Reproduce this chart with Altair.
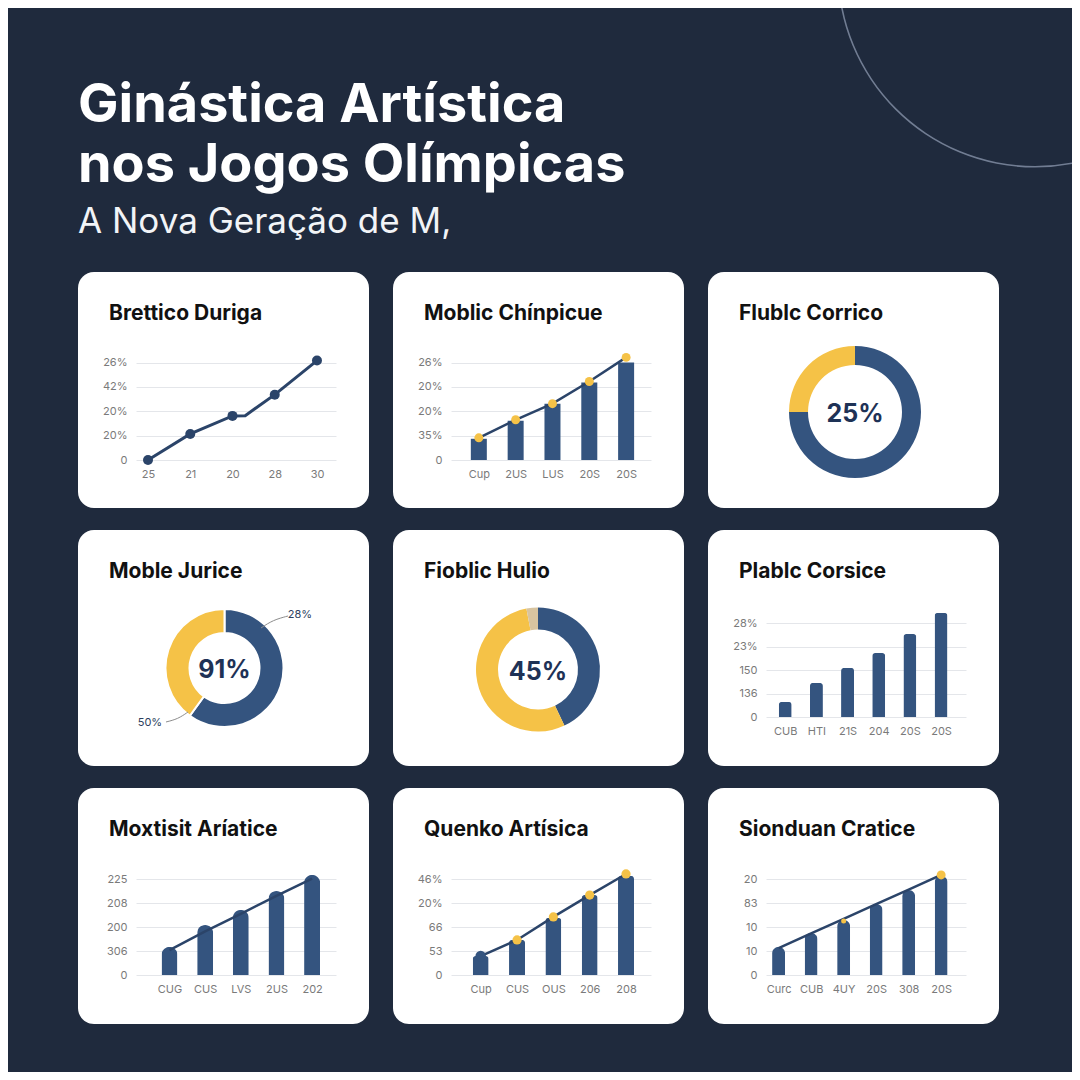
import json
import altair as alt
import pandas as pd

# ---------------- data ----------------
TITLE_LINES = ["Ginástica Artística", "nos Jogos Olímpicas"]
SUBTITLE = "A Nova Geração de M,"

C1_TITLE = "Brettico Duriga"
C1_X_LABELS = ["25", "21", "20", "28", "30"]
C1_Y_LABELS = ["0", "20%", "20%", "42%", "26%"]
C1_LINE_X = [0, 1, 2, 2.3, 3, 4]
C1_LINE_Y = [0.0, 1.07, 1.81, 1.82, 2.68, 4.08]
C1_DOT_X = [0, 1, 2, 3, 4]
C1_DOT_Y = [0.0, 1.07, 1.81, 2.68, 4.08]

C2_TITLE = "Moblic Chínpicue"
C2_X_LABELS = ["Cup", "2US", "LUS", "20S", "20S"]
C2_Y_LABELS = ["0", "35%", "20%", "20%", "26%"]
C2_BARS = [0.87, 1.61, 2.31, 3.18, 4.0]
C2_DOTS = [0.91, 1.65, 2.31, 3.22, 4.21]

C3_TITLE = "Flublc Corrico"
C3_SHARES = [75, 25]
C3_CENTER = "25%"

C4_TITLE = "Moble Jurice"
C4_SHARES = [60, 40]
C4_CENTER = "91%"
C4_SIDE_LABELS = ["28%", "50%"]

C5_TITLE = "Fioblic Hulio"
C5_SHARES = [43, 54, 3]
C5_CENTER = "45%"

C6_TITLE = "Plablc Corsice"
C6_X_LABELS = ["CUB", "HTI", "21S", "204", "20S", "20S"]
C6_Y_LABELS = ["0", "136", "150", "23%", "28%"]
C6_BARS = [0.64, 1.45, 2.09, 2.72, 3.53, 4.43]

C7_TITLE = "Moxtisit Aríatice"
C7_X_LABELS = ["CUG", "CUS", "LVS", "2US", "202"]
C7_Y_LABELS = ["0", "306", "200", "208", "225"]
C7_BARS = [1.17, 2.08, 2.71, 3.5, 4.17]
C7_LINE = [1.04, 1.82, 2.55, 3.3, 4.02]

C8_TITLE = "Quenko Artísica"
C8_X_LABELS = ["Cup", "CUS", "OUS", "206", "208"]
C8_Y_LABELS = ["0", "53", "66", "20%", "46%"]
C8_BARS = [0.79, 1.46, 2.38, 3.33, 4.13]
C8_DOTS = [0.79, 1.46, 2.42, 3.33, 4.21]

C9_TITLE = "Sionduan Cratice"
C9_X_LABELS = ["Curc", "CUB", "4UY", "20S", "308", "20S"]
C9_Y_LABELS = ["0", "10", "10", "83", "20"]
C9_BARS = [1.17, 1.75, 2.29, 2.96, 3.54, 4.13]
C9_LINE = [1.12, 1.73, 2.34, 2.95, 3.56, 4.17]
C9_DOT_X = [2, 5]
C9_DOT_Y = [2.25, 4.17]

# ---------------- style / layout ----------------
FONT = "Inter"
BG = "#1f2a3d"
NAVY = "#34547f"
LINE_C = "#2b4469"
YELLOW = "#f5c247"
BEIGE = "#d8c4a0"
GRID = "#e4e6ea"
LBL = "#7a7a7a"
TXT = "#111111"
CENTER_TXT = "#1e3256"

C3_COLORS = [NAVY, YELLOW]
C4_COLORS = [NAVY, YELLOW]
C5_COLORS = [NAVY, YELLOW, BEIGE]

CARD_W, CARD_H = 291, 236
PLOT_X = [58, 258]


def card_view():
    return alt.ViewBackground(fill="#ffffff", stroke="transparent", cornerRadius=16)


def card_title(t):
    return alt.TitleParams(text=t, anchor="start", frame="group", orient="top",
                           offset=-52, dx=31, fontSize=21, fontWeight=700,
                           color=TXT, font=FONT)


def frame_xy(xdom, yrange, xlabels, ylabels):
    xsc = alt.Scale(domain=xdom, range=PLOT_X, nice=False, zero=False)
    ysc = alt.Scale(domain=[0, 4], range=yrange, nice=False, zero=False)
    xax = alt.Axis(values=list(range(len(xlabels))),
                   labelExpr=json.dumps(xlabels) + "[datum.value]",
                   grid=False, domain=False, ticks=False, labelPadding=8,
                   offset=yrange[0] - CARD_H, labelFontSize=11, labelColor=LBL,
                   labelFont=FONT, labelOverlap=False, labelFlush=False,
                   labelBound=False, title=None)
    yax = alt.Axis(values=[0, 1, 2, 3, 4],
                   labelExpr=json.dumps(ylabels) + "[datum.value]",
                   grid=True, gridColor=GRID, gridWidth=1, domain=False,
                   ticks=False, labelPadding=9, offset=-PLOT_X[0],
                   labelFontSize=11, labelColor=LBL, labelFont=FONT,
                   labelOverlap=False, labelFlush=False, title=None)

    def X(f):
        return alt.X(f"{f}:Q", scale=xsc, axis=xax)

    def Y(f):
        return alt.Y(f"{f}:Q", scale=ysc, axis=yax)
    return X, Y


def finish(layers, title):
    return alt.layer(*layers).properties(width=CARD_W, height=CARD_H,
                                         title=card_title(title), view=card_view())


# card 1: line
X, Y = frame_xy([-0.284, 4.45], [188, 90.5], C1_X_LABELS, C1_Y_LABELS)
c1 = finish([
    alt.Chart(pd.DataFrame({"x": C1_LINE_X, "y": C1_LINE_Y})).mark_line(
        color=LINE_C, strokeWidth=3).encode(x=X("x"), y=Y("y")),
    alt.Chart(pd.DataFrame({"x": C1_DOT_X, "y": C1_DOT_Y})).mark_circle(
        color=LINE_C, size=100, opacity=1).encode(x=X("x"), y=Y("y")),
], C1_TITLE)

# card 2: bars + line + yellow dots
X, Y = frame_xy([-0.62, 4.54], [188, 90.5], C2_X_LABELS, C2_Y_LABELS)
i2 = list(range(len(C2_BARS)))
c2 = finish([
    alt.Chart(pd.DataFrame({"x": i2, "y": C2_BARS})).mark_bar(
        color=NAVY, width=16).encode(x=X("x"), y=Y("y")),
    alt.Chart(pd.DataFrame({"x": i2, "y": C2_DOTS})).mark_line(
        color=LINE_C, strokeWidth=2.5).encode(x=X("x"), y=Y("y")),
    alt.Chart(pd.DataFrame({"x": i2, "y": C2_DOTS})).mark_circle(
        color=YELLOW, size=80, opacity=1).encode(x=X("x"), y=Y("y")),
], C2_TITLE)


def donut(shares, colors, cx, cy, r_in, r_out, center, title, extra=(), sep=0):
    df = pd.DataFrame({"i": list(range(len(shares))), "v": shares, "c": colors})
    arc_kw = dict(innerRadius=r_in, outerRadius=r_out)
    if sep:
        arc_kw.update(stroke="#ffffff", strokeWidth=sep)
    arc = alt.Chart(df).mark_arc(**arc_kw).encode(
        theta=alt.Theta("v:Q", stack=True),
        order=alt.Order("i:Q"),
        color=alt.Color("c:N", scale=None),
        x=alt.value(cx), y=alt.value(cy))
    txt = alt.Chart(pd.DataFrame({"t": [center]})).mark_text(
        fontSize=25, fontWeight=700, color=CENTER_TXT, font=FONT,
        baseline="middle", align="center").encode(
        text="t:N", x=alt.value(cx), y=alt.value(cy + 2))
    return finish([arc, *extra, txt], title)


c3 = donut(C3_SHARES, C3_COLORS, 147, 140, 47, 66, C3_CENTER, C3_TITLE)

# card 4 annotations (polar positions around the donut centre)
C4_CX, C4_CY = 146.5, 138
lead = pd.DataFrame({
    "g": [0, 0, 0, 1, 1, 1], "k": [0, 1, 2, 0, 1, 2],
    "ang": [42.4, 45.3, 50.7, 219.7, 222.4, 227.3],
    "rad": [54.2, 68.2, 82.1, 57.2, 69.0, 79.6]})
leaders = alt.Chart(lead).transform_calculate(
    px=f"{C4_CX} + datum.rad*sin(datum.ang*PI/180)",
    py=f"{C4_CY} - datum.rad*cos(datum.ang*PI/180)").mark_line(
    color="#8c8c8c", strokeWidth=1, interpolate="basis").encode(
    x=alt.X("px:Q", scale=None, axis=None), y=alt.Y("py:Q", scale=None, axis=None),
    detail="g:N", order="k:Q")
side = alt.Chart(pd.DataFrame({"t": C4_SIDE_LABELS, "ang": [55.0, 233.6],
                               "rad": [92.0, 92.6]})).transform_calculate(
    px=f"{C4_CX} + datum.rad*sin(datum.ang*PI/180)",
    py=f"{C4_CY} - datum.rad*cos(datum.ang*PI/180)").mark_text(
    fontSize=11, color="#2d3f5e", font=FONT, baseline="middle").encode(
    text="t:N", x=alt.X("px:Q", scale=None, axis=None),
    y=alt.Y("py:Q", scale=None, axis=None))
c4 = donut(C4_SHARES, C4_COLORS, C4_CX, C4_CY, 35, 59, C4_CENTER, C4_TITLE,
           extra=(leaders, side), sep=2)

c5 = donut(C5_SHARES, C5_COLORS, 145, 139.5, 40, 62, C5_CENTER, C5_TITLE)

# card 6: bars
X, Y = frame_xy([-0.457, 5.64], [187, 93], C6_X_LABELS, C6_Y_LABELS)
c6 = finish([
    alt.Chart(pd.DataFrame({"x": list(range(len(C6_BARS))), "y": C6_BARS})).mark_bar(
        color=NAVY, width=13, cornerRadiusTopLeft=3, cornerRadiusTopRight=3).encode(
        x=X("x"), y=Y("y")),
], C6_TITLE)

# card 7: rounded bars + line
X, Y = frame_xy([-0.8, 4.53], [187, 91], C7_X_LABELS, C7_Y_LABELS)
i7 = list(range(len(C7_BARS)))
c7 = finish([
    alt.Chart(pd.DataFrame({"x": i7, "y": C7_BARS})).mark_bar(
        color=NAVY, width=16, cornerRadiusTopLeft=8, cornerRadiusTopRight=8).encode(
        x=X("x"), y=Y("y")),
    alt.Chart(pd.DataFrame({"x": i7, "y": C7_LINE})).mark_line(
        color=LINE_C, strokeWidth=2.5).encode(x=X("x"), y=Y("y")),
], C7_TITLE)

# card 8: bars + line + dots
X, Y = frame_xy([-0.68, 4.55], [187, 91], C8_X_LABELS, C8_Y_LABELS)
i8 = list(range(len(C8_BARS)))
d8 = pd.DataFrame({"x": i8, "y": C8_DOTS})
c8 = finish([
    alt.Chart(pd.DataFrame({"x": i8, "y": C8_BARS})).mark_bar(
        color=NAVY, width=16, cornerRadiusTopLeft=3, cornerRadiusTopRight=3).encode(
        x=X("x"), y=Y("y")),
    alt.Chart(d8).mark_line(color=LINE_C, strokeWidth=2.5).encode(x=X("x"), y=Y("y")),
    alt.Chart(d8).transform_filter("datum.x < 1").mark_circle(
        color=NAVY, size=110, opacity=1).encode(x=X("x"), y=Y("y")),
    alt.Chart(d8).transform_filter("datum.x >= 1").mark_circle(
        color=YELLOW, size=85, opacity=1).encode(x=X("x"), y=Y("y")),
], C8_TITLE)

# card 9: 6 rounded bars + line + yellow dots
X, Y = frame_xy([-0.234, 5.61], [187, 91], C9_X_LABELS, C9_Y_LABELS)
i9 = list(range(len(C9_BARS)))
d9 = pd.DataFrame({"x": C9_DOT_X, "y": C9_DOT_Y})
c9 = finish([
    alt.Chart(pd.DataFrame({"x": i9, "y": C9_BARS})).mark_bar(
        color=NAVY, width=13, cornerRadiusTopLeft=6.5, cornerRadiusTopRight=6.5).encode(
        x=X("x"), y=Y("y")),
    alt.Chart(pd.DataFrame({"x": i9, "y": C9_LINE})).mark_line(
        color=LINE_C, strokeWidth=2.5).encode(x=X("x"), y=Y("y")),
    alt.Chart(d9).transform_filter("datum.x < 5").mark_circle(
        color=YELLOW, size=25, opacity=1).encode(x=X("x"), y=Y("y")),
    alt.Chart(d9).transform_filter("datum.x >= 5").mark_circle(
        color=YELLOW, size=80, opacity=1).encode(x=X("x"), y=Y("y")),
], C9_TITLE)

# header with title and decorative curve
header = alt.Chart(pd.DataFrame({"v": [1]})).mark_arc(
    innerRadius=196, outerRadius=197.6, clip=True, color="#8e9ab0", opacity=0.75).encode(
    theta=alt.Theta("v:Q"), x=alt.value(957), y=alt.value(-38)).properties(
    width=994, height=242,
    view=alt.ViewBackground(fill="transparent", stroke="transparent"),
    title=alt.TitleParams(
        text=TITLE_LINES, subtitle=SUBTITLE, anchor="start", frame="group",
        orient="top", offset=-232, fontSize=54, fontWeight=700, font=FONT,
        color="#ffffff", lineHeight=60, subtitleFont=FONT, subtitleFontSize=35,
        subtitleFontWeight=400, subtitleColor="#f2f4f7", subtitlePadding=12))

row1 = alt.hconcat(c1, c2, c3, spacing=24)
row2 = alt.hconcat(c4, c5, c6, spacing=24)
row3 = alt.hconcat(c7, c8, c9, spacing=24)

chart = alt.vconcat(header, row1, row2, row3, spacing=22).properties(
    padding={"left": 70, "top": 0, "right": 0, "bottom": 48}
).configure(background=BG).configure_view(strokeWidth=0)

chart.save("out.html", embed_options={"renderer": "svg", "actions": False})
